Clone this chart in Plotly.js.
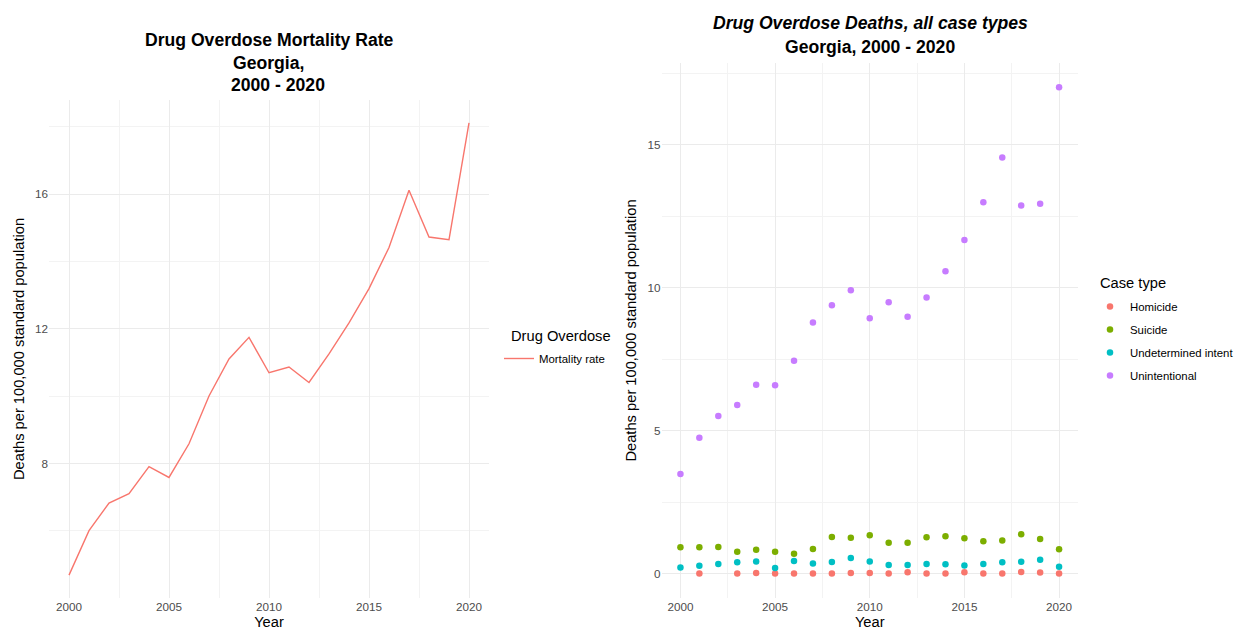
<!DOCTYPE html>
<html>
<head>
<meta charset="utf-8">
<script src="https://cdn.plot.ly/plotly-3.0.1.min.js"></script>
<style>
  html, body { margin: 0; padding: 0; background: #ffffff; }
  #chart { width: 1234px; height: 630px; }
</style>
</head>
<body>
<div id="chart"></div>
<script>
// ---------- data ----------
const years = [2000, 2001, 2002, 2003, 2004, 2005, 2006, 2007, 2008, 2009, 2010,
               2011, 2012, 2013, 2014, 2015, 2016, 2017, 2018, 2019, 2020];

// Left panel: drug overdose mortality rate
const mortalityRate = [4.69, 6.01, 6.83, 7.11, 7.91, 7.59, 8.59, 10.01, 11.11, 11.75, 10.70,
                       10.87, 10.41, 11.26, 12.18, 13.20, 14.42, 16.12, 14.73, 14.65, 18.12];

// Right panel: deaths by case type
const caseTypes = ["Homicide", "Suicide", "Undetermined intent", "Unintentional"];
const homicide = [null, 0.01, null, 0.01, 0.02, 0.01, 0.01, 0.01, 0.01, 0.02, 0.02,
                  0.01, 0.05, 0.01, 0.01, 0.05, 0.01, 0.01, 0.06, 0.04, 0.01];
const suicide = [0.92, 0.92, 0.93, 0.77, 0.84, 0.77, 0.70, 0.86, 1.28, 1.26, 1.34,
                 1.08, 1.08, 1.27, 1.31, 1.24, 1.13, 1.16, 1.38, 1.21, 0.85];
const undetermined = [0.22, 0.28, 0.34, 0.40, 0.43, 0.20, 0.44, 0.36, 0.41, 0.55, 0.43,
                      0.30, 0.30, 0.34, 0.33, 0.29, 0.34, 0.40, 0.42, 0.49, 0.24];
const unintentional = [3.48, 4.75, 5.51, 5.90, 6.60, 6.59, 7.44, 8.78, 9.38, 9.91, 8.93,
                       9.49, 8.98, 9.65, 10.57, 11.66, 12.98, 14.55, 12.87, 12.93, 17.00];
const caseValues = [homicide, suicide, undetermined, unintentional];
const caseColors = ["#F8766D", "#7CAE00", "#00BFC4", "#C77CFF"];

// ---------- layout helpers ----------
const W = 1234, H = 630;
const fx = px => px / W;
const fy = py => 1 - py / H;
const FONT = "Liberation Sans, Arial, Helvetica, sans-serif";
const TICK_FONT = { family: FONT, size: 11.7, color: "#4D4D4D" };
const AXT_FONT = { family: FONT, size: 14.7, color: "#000000" };
const LEG_FONT = { family: FONT, size: 11.4, color: "#000000" };
const GRID = "#EBEBEB";
const MINOR = "#F3F3F3";

function xAxis(domain, anchor) {
  return {
    domain: domain, anchor: anchor,
    range: [1999, 2021], tick0: 2000, dtick: 5,
    showgrid: true, gridcolor: GRID, gridwidth: 1,
    minor: { dtick: 2.5, tick0: 2000, showgrid: true, gridcolor: MINOR, gridwidth: 1 },
    zeroline: false, showline: false, ticks: "",
    tickfont: TICK_FONT,
    title: { text: "Year", font: AXT_FONT, standoff: 13 },
    fixedrange: true
  };
}

const traces = [];
traces.push({
  type: "scatter", mode: "lines",
  x: years, y: mortalityRate,
  xaxis: "x", yaxis: "y",
  name: "Mortality rate",
  line: { color: "#F8766D", width: 1.4 },
  legend: "legend"
});
caseTypes.forEach((ct, i) => {
  traces.push({
    type: "scatter", mode: "markers",
    x: years, y: caseValues[i],
    xaxis: "x2", yaxis: "y2",
    name: ct,
    legendgroup: ct,
    marker: { color: caseColors[i], size: 6.5 },
    legend: "legend2"
  });
});

const layout = {
  width: W, height: H,
  margin: { l: 0, r: 0, t: 0, b: 0, autoexpand: false },
  paper_bgcolor: "#ffffff", plot_bgcolor: "#ffffff",
  font: { family: FONT, color: "#000000" },
  showlegend: true,
  xaxis: xAxis([fx(49), fx(489)], "y"),
  yaxis: {
    domain: [fy(598), fy(100)], anchor: "x",
    range: [4.01, 18.8], tick0: 0, dtick: 4,
    showgrid: true, gridcolor: GRID, gridwidth: 1,
    minor: { dtick: 2, tick0: 0, showgrid: true, gridcolor: MINOR, gridwidth: 1 },
    zeroline: false, showline: false, ticks: "",
    tickfont: TICK_FONT,
    title: { text: "Deaths per 100,000 standard population", font: AXT_FONT, standoff: 6 },
    fixedrange: true
  },
  xaxis2: xAxis([fx(661.5), fx(1078)], "y2"),
  yaxis2: {
    domain: [fy(598), fy(63)], anchor: "x2",
    range: [-0.85, 17.85], tick0: 0, dtick: 5,
    showgrid: true, gridcolor: GRID, gridwidth: 1,
    minor: { dtick: 2.5, tick0: 0, showgrid: true, gridcolor: MINOR, gridwidth: 1 },
    zeroline: false, showline: false, ticks: "",
    tickfont: TICK_FONT,
    title: { text: "Deaths per 100,000 standard population", font: AXT_FONT, standoff: 7 },
    fixedrange: true
  },
  legend: {
    x: fx(499), y: fy(344), xanchor: "left", yanchor: "top",
    bgcolor: "rgba(0,0,0,0)",
    font: LEG_FONT
  },
  legend2: {
    x: fx(1090), y: fy(292), xanchor: "left", yanchor: "top",
    bgcolor: "rgba(0,0,0,0)",
    tracegroupgap: 4,
    font: LEG_FONT
  },
  annotations: [
    { text: "<b>Drug Overdose Mortality Rate</b>", x: fx(269), y: fy(40.5), xref: "paper", yref: "paper",
      xanchor: "center", yanchor: "middle", showarrow: false, font: { family: FONT, size: 17.6, color: "#000" } },
    { text: "<b>Georgia,</b>", x: fx(268.5), y: fy(63), xref: "paper", yref: "paper",
      xanchor: "center", yanchor: "middle", showarrow: false, font: { family: FONT, size: 17.6, color: "#000" } },
    { text: "<b>2000 - 2020</b>", x: fx(277.5), y: fy(85), xref: "paper", yref: "paper",
      xanchor: "center", yanchor: "middle", showarrow: false, font: { family: FONT, size: 17.6, color: "#000" } },
    { text: "<b><i>Drug Overdose Deaths, all case types</i></b>", x: fx(870), y: fy(23), xref: "paper", yref: "paper",
      xanchor: "center", yanchor: "middle", showarrow: false, font: { family: FONT, size: 17.6, color: "#000" } },
    { text: "<b>Georgia, 2000 - 2020</b>", x: fx(870), y: fy(47), xref: "paper", yref: "paper",
      xanchor: "center", yanchor: "middle", showarrow: false, font: { family: FONT, size: 17.6, color: "#000" } },
    // legend titles
    { text: "Drug Overdose", x: fx(509), y: fy(336), xref: "paper", yref: "paper",
      xanchor: "left", yanchor: "middle", showarrow: false, font: { family: FONT, size: 14.7, color: "#000" } },
    { text: "Case type", x: fx(1098), y: fy(283), xref: "paper", yref: "paper",
      xanchor: "left", yanchor: "middle", showarrow: false, font: { family: FONT, size: 14.7, color: "#000" } }
  ]
};

Plotly.newPlot("chart", traces, layout, { staticPlot: true, displayModeBar: false });
</script>
</body>
</html>
